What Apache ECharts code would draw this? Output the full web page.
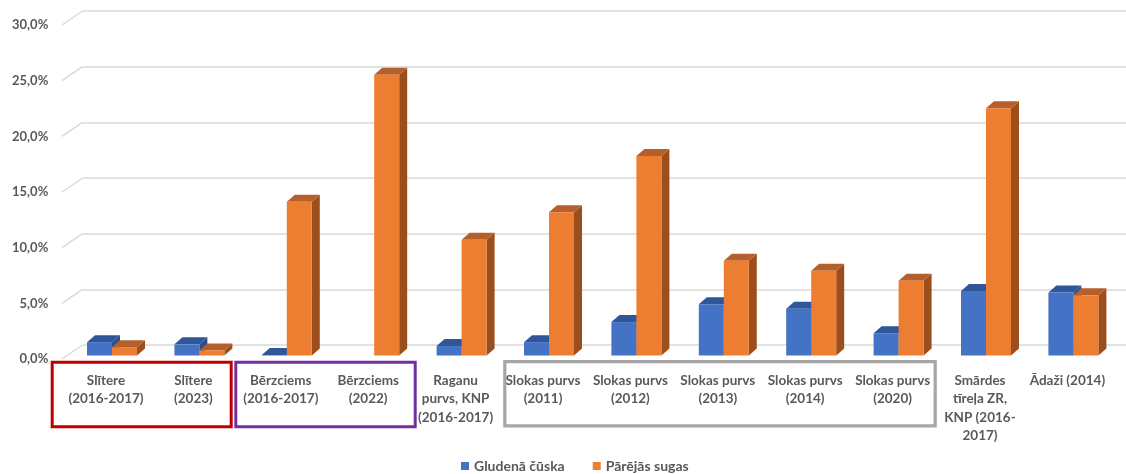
<!DOCTYPE html>
<html>
<head>
<meta charset="utf-8">
<script src="https://cdn.jsdelivr.net/npm/echarts@6/dist/echarts.min.js"></script>
<style>html,body{margin:0;padding:0;background:#fff}#c{width:1126px;height:474px}</style>
</head>
<body>
<div id="c"></div>
<script>
const categories = [
  'Slītere\n(2016-2017)', 'Slītere\n(2023)', 'Bērzciems\n(2016-2017)', 'Bērzciems\n(2022)',
  'Raganu\npurvs, KNP\n(2016-2017)', 'Slokas purvs\n(2011)', 'Slokas purvs\n(2012)',
  'Slokas purvs\n(2013)', 'Slokas purvs\n(2014)', 'Slokas purvs\n(2020)',
  'Smārdes\ntīreļa ZR,\nKNP (2016-\n2017)', 'Ādaži (2014)'
];
const seriesNames = ['Gludenā čūska', 'Pārējās sugas'];
const blueValues = [1.2, 1.0, 0.05, 0, 0.85, 1.2, 3.0, 4.6, 4.2, 2.0, 5.8, 5.65];
const orangeValues = [0.75, 0.45, 13.8, 25.2, 10.4, 12.85, 17.9, 8.5, 7.6, 6.7, 22.2, 5.4];
const yTicks = [0, 5, 10, 15, 20, 25, 30];

const DX = 8, DY = 7;
const TXT = '#595959';
const FONT = 'Lato, "Open Sans", sans-serif';

function makeRender(pos, front, side, top) {
  return function (params, api) {
    const v = api.value(1);
    if (!(v > 0)) return;
    const c = api.coord([api.value(0), v]);
    const b = api.coord([api.value(0), 0]);
    const band = api.size([1, 0])[0];
    const w = band * 0.286;
    const x0 = pos === 0 ? c[0] - w : c[0];
    const x1 = x0 + w;
    const yt = c[1], yb = b[1];
    return {
      type: 'group',
      children: [
        { type: 'polygon', shape: { points: [[x1, yb], [x1 + DX, yb - DY], [x1 + DX, yt - DY], [x1, yt]] }, style: { fill: side } },
        { type: 'polygon', shape: { points: [[x0, yt], [x1, yt], [x1 + DX, yt - DY], [x0 + DX, yt - DY]] }, style: { fill: top } },
        { type: 'rect', shape: { x: x0, y: yt, width: w, height: Math.max(yb - yt, 0) }, style: { fill: front } }
      ]
    };
  };
}

const chart = echarts.init(document.getElementById('c'));
chart.setOption({
  animation: false,
  backgroundColor: '#fff',
  textStyle: { fontFamily: FONT },
  legend: {
    data: seriesNames,
    top: 459, left: 461, padding: 0,
    icon: 'rect', itemWidth: 8, itemHeight: 8, itemGap: 28, itemStyle: { borderWidth: 0 },
    textStyle: { color: TXT, fontSize: 14, fontWeight: 'bold', fontFamily: FONT }
  },
  grid: [
    { left: 62.3, right: 14.9, top: 25, bottom: 115 },   // labels (front plane)
    { left: 82.5, right: 0, top: 11, bottom: 129 },      // back wall
    { left: 68.3, right: 8.9, top: 21.3, bottom: 118.5 } // bars
  ],
  xAxis: [
    {
      gridIndex: 0, type: 'category', data: categories,
      axisLine: { show: false }, axisTick: { show: false },
      axisLabel: { interval: 0, color: TXT, fontSize: 13.5, fontWeight: 'bold', lineHeight: 18.5, margin: 12, fontFamily: FONT }
    },
    { gridIndex: 1, type: 'value', min: 0, max: 1, show: false },
    { gridIndex: 2, type: 'category', data: categories, show: false }
  ],
  yAxis: [
    {
      gridIndex: 0, type: 'value', min: 0, max: 30, interval: 5,
      axisLine: { show: false }, axisTick: { show: false }, splitLine: { show: false },
      axisLabel: { color: TXT, fontSize: 13, fontWeight: 'bold', margin: 14, fontFamily: FONT,
        formatter: v => v.toFixed(1).replace('.', ',') + '%' }
    },
    {
      gridIndex: 1, type: 'value', min: 0, max: 30, interval: 5,
      axisLine: { show: false }, axisTick: { show: false }, axisLabel: { show: false },
      splitLine: { show: true, lineStyle: { color: '#D9D9D9', width: 1.5 } }
    },
    { gridIndex: 2, type: 'value', min: 0, max: 30, show: false }
  ],
  series: [
    {
      type: 'custom', xAxisIndex: 1, yAxisIndex: 1, z: 1, silent: true,
      data: yTicks.map(v => [0, v]),
      renderItem: function (params, api) {
        const p = api.coord([0, api.value(1)]);
        return { type: 'line', shape: { x1: p[0] - 20.5, y1: p[1] + 14, x2: p[0], y2: p[1] },
          style: { stroke: '#D9D9D9', lineWidth: 1.5 } };
      }
    },
    {
      name: seriesNames[0], type: 'custom', xAxisIndex: 2, yAxisIndex: 2, z: 3,
      itemStyle: { color: '#4472C4' },
      data: blueValues.map((v, i) => [i, v]),
      renderItem: makeRender(0, '#4472C4', '#2C4E8C', '#2F559A')
    },
    {
      name: seriesNames[1], type: 'custom', xAxisIndex: 2, yAxisIndex: 2, z: 4,
      itemStyle: { color: '#ED7D31' },
      data: orangeValues.map((v, i) => [i, v]),
      renderItem: makeRender(1, '#ED7D31', '#9C4F1D', '#B5602A')
    }
  ],
  graphic: [
    { type: 'rect', shape: { x: 52.2, y: 362.2, width: 179, height: 64.6 }, style: { fill: 'none', stroke: '#C00000', lineWidth: 3 }, z: 10 },
    { type: 'rect', shape: { x: 235.8, y: 362.2, width: 179.4, height: 64.6 }, style: { fill: 'none', stroke: '#7030A0', lineWidth: 3 }, z: 10 },
    { type: 'rect', shape: { x: 504.8, y: 361.6, width: 430.4, height: 64.2 }, style: { fill: 'none', stroke: '#A6A6A6', lineWidth: 3.2 }, z: 10 }
  ]
});
</script>
</body>
</html>
